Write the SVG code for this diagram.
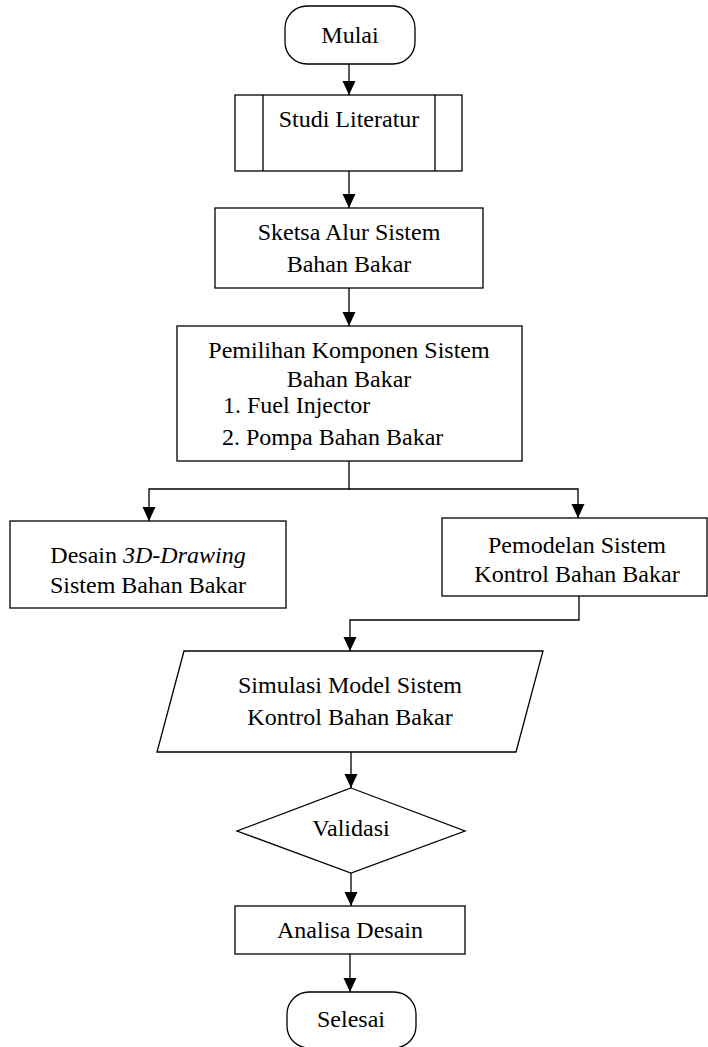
<svg xmlns="http://www.w3.org/2000/svg" width="708" height="1047" viewBox="0 0 708 1047">
<defs>
<marker id="arr" markerUnits="userSpaceOnUse" markerWidth="14" markerHeight="14" refX="14" refY="6.5" orient="auto">
<path d="M0,0 L14,6.5 L0,13 Z" fill="#000"/>
</marker>
</defs>
<style>
.s{fill:#fff;stroke:#000;stroke-width:1.3}
.c{fill:none;stroke:#000;stroke-width:1.3}
.m{text-anchor:middle}
</style>
<rect width="708" height="1047" fill="#fff"/>
<g id="connectors">
<path class="c" d="M349,64 V95" marker-end="url(#arr)"/>
<path class="c" d="M349,171 V208" marker-end="url(#arr)"/>
<path class="c" d="M349,288 V326" marker-end="url(#arr)"/>
<path class="c" d="M349,461 V489 H149 V521" marker-end="url(#arr)"/>
<path class="c" d="M349,489 H578 V518" marker-end="url(#arr)"/>
<path class="c" d="M579,596 V620 H350 V651" marker-end="url(#arr)"/>
<path class="c" d="M351,752 V788" marker-end="url(#arr)"/>
<path class="c" d="M351,873 V906" marker-end="url(#arr)"/>
<path class="c" d="M350,954 V992" marker-end="url(#arr)"/>
</g>
<g font-family="Liberation Serif" font-size="24" fill="#000">
<g id="mulai">
<rect class="s" x="285" y="6" width="130" height="58" rx="22"/>
<text class="m" x="350" y="43" font-family="Liberation Serif">Mulai</text>
</g>
<g id="studi">
<rect class="s" x="235" y="95" width="227" height="76"/>
<path class="c" d="M263,95 V171 M435,95 V171"/>
<text class="m" x="349" y="127" font-family="Liberation Serif">Studi Literatur</text>
</g>
<g id="sketsa">
<rect class="s" x="215" y="208" width="268" height="80"/>
<text class="m" x="349" y="240" font-family="Liberation Serif">Sketsa Alur Sistem</text>
<text class="m" x="349" y="272" font-family="Liberation Serif">Bahan Bakar</text>
</g>
<g id="pemilihan">
<rect class="s" x="177" y="326" width="345" height="135"/>
<text class="m" x="349" y="358" font-family="Liberation Serif">Pemilihan Komponen Sistem</text>
<text class="m" x="349" y="387" font-family="Liberation Serif">Bahan Bakar</text>
<text x="223" y="413" font-family="Liberation Serif">1. Fuel Injector</text>
<text x="222" y="445" font-family="Liberation Serif">2. Pompa Bahan Bakar</text>
</g>
<g id="desain">
<rect class="s" x="10" y="521" width="276" height="87"/>
<text class="m" x="148" y="563" font-family="Liberation Serif">Desain <tspan font-style="italic">3D-Drawing</tspan></text>
<text class="m" x="148" y="593" font-family="Liberation Serif">Sistem Bahan Bakar</text>
</g>
<g id="pemodelan">
<rect class="s" x="442" y="518" width="265" height="78"/>
<text class="m" x="577" y="553" font-family="Liberation Serif">Pemodelan Sistem</text>
<text class="m" x="577" y="582" font-family="Liberation Serif">Kontrol Bahan Bakar</text>
</g>
<g id="simulasi">
<polygon class="s" points="184,651 543,651 516,752 157,752"/>
<text class="m" x="350" y="693" font-family="Liberation Serif">Simulasi Model Sistem</text>
<text class="m" x="350" y="725" font-family="Liberation Serif">Kontrol Bahan Bakar</text>
</g>
<g id="validasi">
<polygon class="s" points="351,788 465,831 351,873 237,831"/>
<text class="m" x="351" y="836" font-family="Liberation Serif">Validasi</text>
</g>
<g id="analisa">
<rect class="s" x="235" y="906" width="230" height="48"/>
<text class="m" x="350" y="938" font-family="Liberation Serif">Analisa Desain</text>
</g>
<g id="selesai">
<rect class="s" x="287" y="992" width="129" height="56" rx="22"/>
<text class="m" x="351" y="1027" font-family="Liberation Serif">Selesai</text>
</g>
</g>
</svg>
